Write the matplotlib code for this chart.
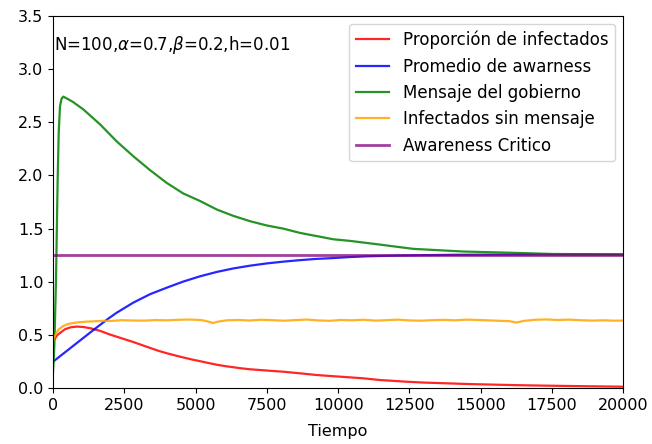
import matplotlib
matplotlib.use("Agg")
import matplotlib.pyplot as plt

# Data
t_inf = [0, 150, 420, 600, 830, 1063, 1300, 1648, 2000, 2232, 2500, 2816, 3100, 3401, 3700, 3985,
         4300, 4569, 4850, 5154, 5450, 5739, 6000, 6322, 6600, 6907, 7500, 8075, 8700, 9245,
         9712, 10414, 10880, 11465, 12400, 13000, 13800, 14600, 15550, 16400, 17300, 18600, 20000]
infectados = [0.44, 0.50, 0.555, 0.572, 0.58, 0.576, 0.565, 0.54, 0.505, 0.485, 0.462, 0.435,
              0.408, 0.38, 0.352, 0.33, 0.308, 0.29, 0.272, 0.255, 0.238, 0.222, 0.21, 0.198,
              0.188, 0.179, 0.167, 0.156, 0.14, 0.125, 0.116, 0.103, 0.094, 0.078, 0.062, 0.054,
              0.047, 0.040, 0.034, 0.029, 0.025, 0.020, 0.015]

t_aw = [0, 500, 1000, 1500, 1940, 2232, 2816, 3401, 3985, 4569, 5154, 5739, 6322, 6907, 7490,
        8075, 8660, 9245, 9712, 10414, 11000, 12050, 13000, 14000, 15500, 17000, 20000]
awareness = [0.25, 0.355, 0.46, 0.565, 0.655, 0.71, 0.805, 0.884, 0.945, 1.003, 1.052, 1.093,
             1.126, 1.152, 1.173, 1.19, 1.204, 1.216, 1.222, 1.233, 1.240, 1.247, 1.251, 1.254,
             1.256, 1.257, 1.257]

t_gob = [0, 46, 105, 163, 200, 245, 300, 361, 500, 700, 1063, 1648, 2232, 2816, 3401, 3985, 4569,
         5154, 5739, 6322, 6907, 7490, 8075, 8660, 9245, 9830, 10414, 11465, 12634, 14387, 16130,
         17500, 20000]
gobierno = [0.15, 0.39, 1.02, 1.96, 2.4, 2.65, 2.72, 2.74, 2.72, 2.69, 2.62, 2.48, 2.32, 2.18,
            2.05, 1.93, 1.83, 1.76, 1.68, 1.62, 1.57, 1.53, 1.50, 1.46, 1.43, 1.40, 1.385, 1.35,
            1.31, 1.285, 1.273, 1.262, 1.258]

t_sin = [0, 80, 186, 350, 537, 700, 887, 1150, 1473, 1750, 2058, 2400, 2800, 3200, 3600, 4000, 4400,
         4800, 5200, 5400, 5610, 5800, 6100, 6500, 6900, 7300, 7700, 8100, 8500, 8900, 9300,
         9700, 10100, 10500, 10900, 11300, 11700, 12100, 12500, 12900, 13300, 13700, 14100,
         14500, 14900, 15300, 15700, 16000, 16260, 16500, 16900, 17300, 17700, 18100, 18500,
         18900, 19300, 19700, 20000]
sin_mensaje = [0.44, 0.50, 0.55, 0.585, 0.605, 0.613, 0.62, 0.626, 0.63, 0.634, 0.633, 0.640,
               0.637, 0.636, 0.641, 0.639, 0.644, 0.646, 0.641, 0.630, 0.614, 0.627, 0.639,
               0.642, 0.637, 0.644, 0.640, 0.635, 0.641, 0.646, 0.638, 0.634, 0.642, 0.639,
               0.644, 0.636, 0.640, 0.645, 0.638, 0.635, 0.640, 0.643, 0.639, 0.645, 0.642,
               0.638, 0.634, 0.631, 0.618, 0.633, 0.644, 0.647, 0.642, 0.645, 0.640, 0.636,
               0.639, 0.635, 0.637]

aw_critico = 1.256

labels = ["Proporción de infectados", "Promedio de awarness", "Mensaje del gobierno",
          "Infectados sin mensaje", "Awareness Critico"]
annotation = r"N=100,$\alpha$=0.7,$\beta$=0.2,h=0.01"

fs = 12
fs_tick = 11.5
fig = plt.figure(figsize=(6.52, 4.44), dpi=100)
ax = fig.add_axes([0.0813, 0.1254, 0.8747, 0.8392])

ax.plot(t_inf, infectados, color="red", alpha=0.85, lw=1.6, label=labels[0])
ax.plot(t_aw, awareness, color="blue", alpha=0.85, lw=1.6, label=labels[1])
ax.plot(t_gob, gobierno, color="green", alpha=0.85, lw=1.6, label=labels[2])
ax.plot(t_sin, sin_mensaje, color="orange", alpha=0.85, lw=1.6, label=labels[3])
ax.axhline(aw_critico, color="purple", alpha=0.75, lw=2, label=labels[4])

ax.set_xlim(0, 20000)
ax.set_ylim(0, 3.5)
ax.set_xticks([0, 2500, 5000, 7500, 10000, 12500, 15000, 17500, 20000])
ax.set_yticks([0.0, 0.5, 1.0, 1.5, 2.0, 2.5, 3.0, 3.5])
ax.tick_params(labelsize=fs_tick)
ax.set_xlabel("Tiempo", fontsize=fs_tick, labelpad=8)
ax.text(0.002, 0.921, annotation, transform=ax.transAxes, fontsize=fs, ha="left", va="center")
ax.legend(loc="upper right", fontsize=fs)

fig.savefig("out.png", dpi=100)
